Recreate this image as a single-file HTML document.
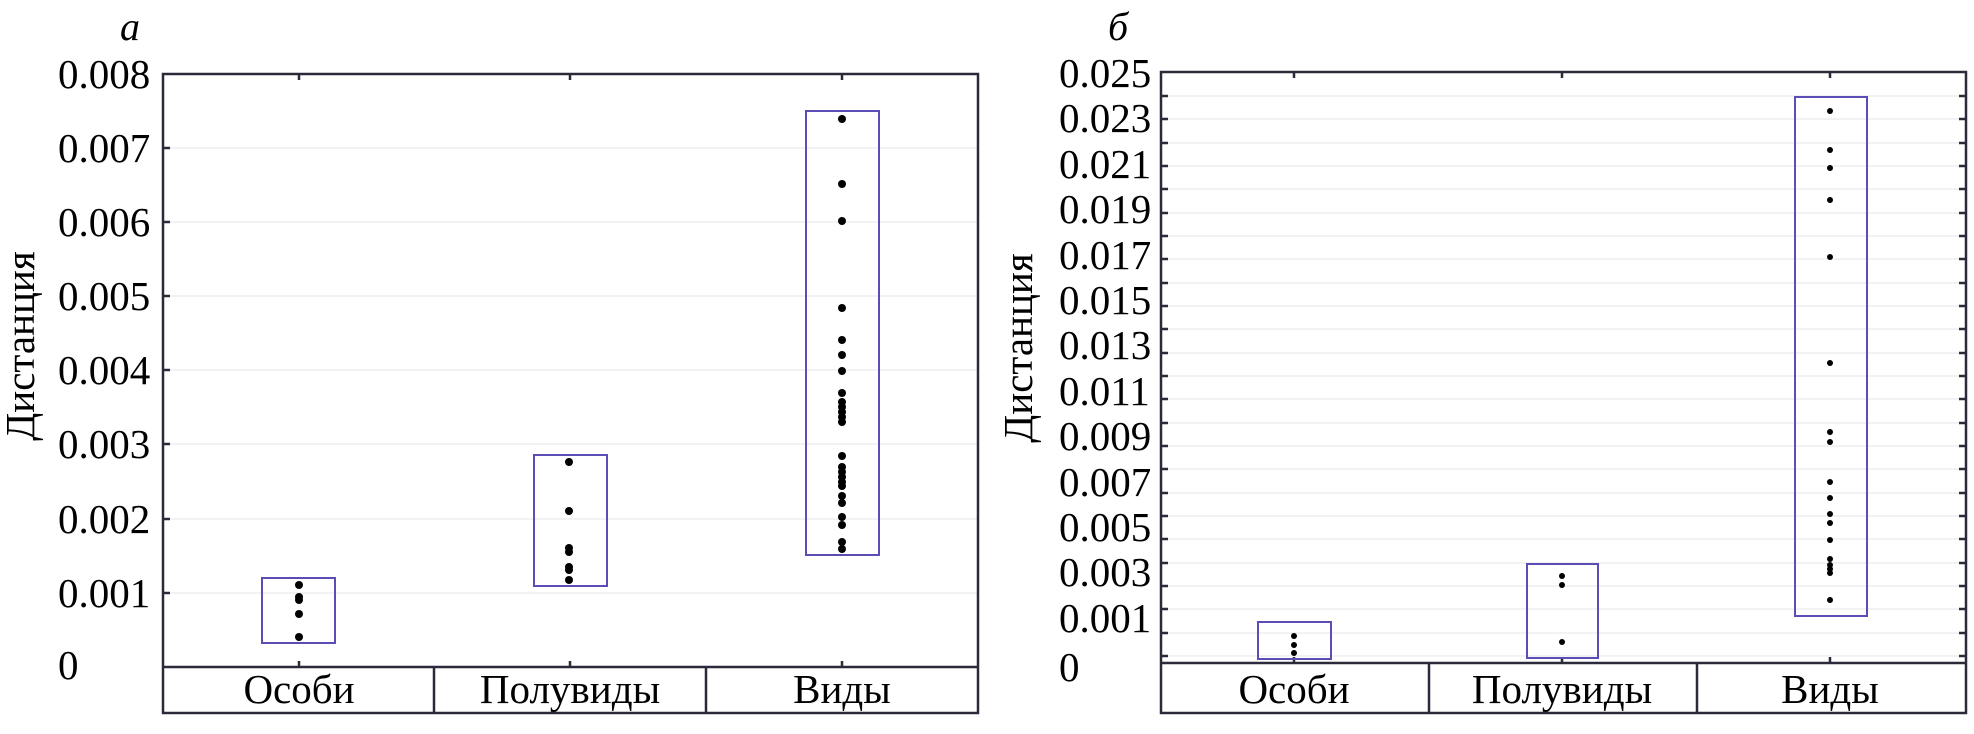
<!DOCTYPE html>
<html><head><meta charset="utf-8"><style>
html,body{margin:0;padding:0;background:#fff;width:1974px;height:734px;overflow:hidden}
text{font-family:"Liberation Serif","DejaVu Serif",serif;fill:#000}
</style></head><body>
<svg width="1974" height="734" viewBox="0 0 1974 734" xmlns="http://www.w3.org/2000/svg">
<!-- LEFT PANEL -->
<text x="130" y="40" font-size="40" font-style="italic" text-anchor="middle">а</text>
<g stroke="#eeeeee" stroke-width="1.5">
<line x1="163" x2="978" y1="148" y2="148"/><line x1="163" x2="978" y1="222" y2="222"/>
<line x1="163" x2="978" y1="296" y2="296"/><line x1="163" x2="978" y1="370" y2="370"/>
<line x1="163" x2="978" y1="444" y2="444"/><line x1="163" x2="978" y1="519" y2="519"/>
<line x1="163" x2="978" y1="593" y2="593"/>
</g>
<g stroke="#2a2a3a" stroke-width="2.5">
<line x1="163" x2="170" y1="148" y2="148"/><line x1="163" x2="170" y1="222" y2="222"/>
<line x1="163" x2="170" y1="296" y2="296"/><line x1="163" x2="170" y1="370" y2="370"/>
<line x1="163" x2="170" y1="444" y2="444"/><line x1="163" x2="170" y1="519" y2="519"/>
<line x1="163" x2="170" y1="593" y2="593"/>
<line x1="299" x2="299" y1="74" y2="80"/><line x1="570" x2="570" y1="74" y2="80"/><line x1="842" x2="842" y1="74" y2="80"/>
<line x1="299" x2="299" y1="667" y2="661"/><line x1="570" x2="570" y1="667" y2="661"/><line x1="842" x2="842" y1="667" y2="661"/>
<rect x="163" y="74" width="815" height="639" fill="none"/>
<line x1="163" x2="978" y1="667" y2="667"/>
<line x1="434" x2="434" y1="667" y2="713"/><line x1="706" x2="706" y1="667" y2="713"/>
</g>
<g font-size="41">
<text x="58" y="88">0.008</text><text x="58" y="162">0.007</text><text x="58" y="236">0.006</text>
<text x="58" y="310">0.005</text><text x="58" y="384">0.004</text><text x="58" y="458">0.003</text>
<text x="58" y="533">0.002</text><text x="58" y="607">0.001</text><text x="58" y="679">0</text>
</g>
<text transform="translate(34,346) rotate(-90)" font-size="41" text-anchor="middle">Дистанция</text>
<g font-size="41" text-anchor="middle">
<text x="299" y="703">Особи</text><text x="570" y="703">Полувиды</text><text x="842" y="703">Виды</text>
</g>
<g fill="none" stroke="#5a4db5" stroke-width="2">
<rect x="262" y="578" width="73" height="65"/>
<rect x="534" y="455" width="73" height="131"/>
<rect x="806" y="111" width="73" height="444"/>
</g>
<g fill="#000">
<circle cx="299" cy="585" r="4"/><circle cx="299" cy="597" r="4"/><circle cx="299" cy="600" r="4"/><circle cx="299" cy="614" r="4"/><circle cx="299" cy="637" r="4"/>
<circle cx="569" cy="462" r="4"/><circle cx="569" cy="511" r="4"/><circle cx="569" cy="548" r="4"/><circle cx="569" cy="552" r="4"/><circle cx="569" cy="567" r="4"/><circle cx="569" cy="570" r="4"/><circle cx="569" cy="580" r="4"/>
<circle cx="842" cy="119" r="4"/><circle cx="842" cy="184" r="4"/><circle cx="842" cy="221" r="4"/><circle cx="842" cy="308" r="4"/><circle cx="842" cy="340" r="4"/><circle cx="842" cy="355" r="4"/><circle cx="842" cy="371" r="4"/><circle cx="842" cy="393" r="4"/><circle cx="842" cy="402" r="4"/><circle cx="842" cy="407" r="4"/><circle cx="842" cy="412" r="4"/><circle cx="842" cy="417" r="4"/><circle cx="842" cy="422" r="4"/><circle cx="842" cy="456" r="4"/><circle cx="842" cy="467" r="4"/><circle cx="842" cy="472" r="4"/><circle cx="842" cy="477" r="4"/><circle cx="842" cy="482" r="4"/><circle cx="842" cy="486" r="4"/><circle cx="842" cy="496" r="4"/><circle cx="842" cy="503" r="4"/><circle cx="842" cy="517" r="4"/><circle cx="842" cy="525" r="4"/><circle cx="842" cy="542" r="4"/><circle cx="842" cy="549" r="4"/>
</g>

<!-- RIGHT PANEL -->
<text x="1118" y="40" font-size="40" font-style="italic" text-anchor="middle">б</text>
<g stroke="#eeeeee" stroke-width="1.5">
<line x1="1163" x2="1964" y1="656" y2="656"/><line x1="1163" x2="1964" y1="633" y2="633"/><line x1="1163" x2="1964" y1="609" y2="609"/><line x1="1163" x2="1964" y1="586" y2="586"/><line x1="1163" x2="1964" y1="563" y2="563"/><line x1="1163" x2="1964" y1="539" y2="539"/><line x1="1163" x2="1964" y1="516" y2="516"/><line x1="1163" x2="1964" y1="493" y2="493"/><line x1="1163" x2="1964" y1="469" y2="469"/><line x1="1163" x2="1964" y1="446" y2="446"/><line x1="1163" x2="1964" y1="423" y2="423"/><line x1="1163" x2="1964" y1="399" y2="399"/><line x1="1163" x2="1964" y1="376" y2="376"/><line x1="1163" x2="1964" y1="353" y2="353"/><line x1="1163" x2="1964" y1="329" y2="329"/><line x1="1163" x2="1964" y1="306" y2="306"/><line x1="1163" x2="1964" y1="283" y2="283"/><line x1="1163" x2="1964" y1="259" y2="259"/><line x1="1163" x2="1964" y1="236" y2="236"/><line x1="1163" x2="1964" y1="213" y2="213"/><line x1="1163" x2="1964" y1="189" y2="189"/><line x1="1163" x2="1964" y1="166" y2="166"/><line x1="1163" x2="1964" y1="143" y2="143"/><line x1="1163" x2="1964" y1="119" y2="119"/><line x1="1163" x2="1964" y1="96" y2="96"/>
</g>
<g stroke="#2a2a3a" stroke-width="2.5">
<line x1="1161" x2="1168" y1="656" y2="656"/><line x1="1161" x2="1168" y1="633" y2="633"/><line x1="1161" x2="1168" y1="609" y2="609"/><line x1="1161" x2="1168" y1="586" y2="586"/><line x1="1161" x2="1168" y1="563" y2="563"/><line x1="1161" x2="1168" y1="539" y2="539"/><line x1="1161" x2="1168" y1="516" y2="516"/><line x1="1161" x2="1168" y1="493" y2="493"/><line x1="1161" x2="1168" y1="469" y2="469"/><line x1="1161" x2="1168" y1="446" y2="446"/><line x1="1161" x2="1168" y1="423" y2="423"/><line x1="1161" x2="1168" y1="399" y2="399"/><line x1="1161" x2="1168" y1="376" y2="376"/><line x1="1161" x2="1168" y1="353" y2="353"/><line x1="1161" x2="1168" y1="329" y2="329"/><line x1="1161" x2="1168" y1="306" y2="306"/><line x1="1161" x2="1168" y1="283" y2="283"/><line x1="1161" x2="1168" y1="259" y2="259"/><line x1="1161" x2="1168" y1="236" y2="236"/><line x1="1161" x2="1168" y1="213" y2="213"/><line x1="1161" x2="1168" y1="189" y2="189"/><line x1="1161" x2="1168" y1="166" y2="166"/><line x1="1161" x2="1168" y1="143" y2="143"/><line x1="1161" x2="1168" y1="119" y2="119"/><line x1="1161" x2="1168" y1="96" y2="96"/>
<line x1="1966" x2="1959" y1="656" y2="656"/><line x1="1966" x2="1959" y1="633" y2="633"/><line x1="1966" x2="1959" y1="609" y2="609"/><line x1="1966" x2="1959" y1="586" y2="586"/><line x1="1966" x2="1959" y1="563" y2="563"/><line x1="1966" x2="1959" y1="539" y2="539"/><line x1="1966" x2="1959" y1="516" y2="516"/><line x1="1966" x2="1959" y1="493" y2="493"/><line x1="1966" x2="1959" y1="469" y2="469"/><line x1="1966" x2="1959" y1="446" y2="446"/><line x1="1966" x2="1959" y1="423" y2="423"/><line x1="1966" x2="1959" y1="399" y2="399"/><line x1="1966" x2="1959" y1="376" y2="376"/><line x1="1966" x2="1959" y1="353" y2="353"/><line x1="1966" x2="1959" y1="329" y2="329"/><line x1="1966" x2="1959" y1="306" y2="306"/><line x1="1966" x2="1959" y1="283" y2="283"/><line x1="1966" x2="1959" y1="259" y2="259"/><line x1="1966" x2="1959" y1="236" y2="236"/><line x1="1966" x2="1959" y1="213" y2="213"/><line x1="1966" x2="1959" y1="189" y2="189"/><line x1="1966" x2="1959" y1="166" y2="166"/><line x1="1966" x2="1959" y1="143" y2="143"/><line x1="1966" x2="1959" y1="119" y2="119"/><line x1="1966" x2="1959" y1="96" y2="96"/>
<line x1="1294" x2="1294" y1="72" y2="78"/><line x1="1562" x2="1562" y1="72" y2="78"/><line x1="1830" x2="1830" y1="72" y2="78"/>
<line x1="1294" x2="1294" y1="663" y2="657"/><line x1="1562" x2="1562" y1="663" y2="657"/><line x1="1830" x2="1830" y1="663" y2="657"/>
<rect x="1161" y="72" width="805" height="641" fill="none"/>
<line x1="1161" x2="1966" y1="663" y2="663"/>
<line x1="1429" x2="1429" y1="663" y2="713"/><line x1="1697" x2="1697" y1="663" y2="713"/>
</g>
<g font-size="41">
<text x="1059" y="87">0.025</text><text x="1059" y="132">0.023</text><text x="1059" y="178">0.021</text>
<text x="1059" y="223">0.019</text><text x="1059" y="269">0.017</text><text x="1059" y="314">0.015</text>
<text x="1059" y="359">0.013</text><text x="1059" y="405">0.011</text><text x="1059" y="450">0.009</text>
<text x="1059" y="496">0.007</text><text x="1059" y="541">0.005</text><text x="1059" y="586">0.003</text>
<text x="1059" y="632">0.001</text><text x="1059" y="681">0</text>
</g>
<text transform="translate(1032,348) rotate(-90)" font-size="41" text-anchor="middle">Дистанция</text>
<g font-size="41" text-anchor="middle">
<text x="1294" y="703">Особи</text><text x="1562" y="703">Полувиды</text><text x="1830" y="703">Виды</text>
</g>
<g fill="none" stroke="#5a4db5" stroke-width="2">
<rect x="1258" y="622" width="73" height="37"/>
<rect x="1527" y="564" width="71" height="94"/>
<rect x="1795" y="97" width="72" height="519"/>
</g>
<g fill="#000">
<circle cx="1294" cy="636" r="3"/><circle cx="1294" cy="645" r="3"/><circle cx="1294" cy="653" r="3"/>
<circle cx="1562" cy="576" r="3"/><circle cx="1562" cy="585" r="3"/><circle cx="1562" cy="642" r="3"/>
<circle cx="1830" cy="111" r="3"/><circle cx="1830" cy="150" r="3"/><circle cx="1830" cy="168" r="3"/><circle cx="1830" cy="200" r="3"/><circle cx="1830" cy="257" r="3"/><circle cx="1830" cy="363" r="3"/><circle cx="1830" cy="432" r="3"/><circle cx="1830" cy="442" r="3"/><circle cx="1830" cy="482" r="3"/><circle cx="1830" cy="498" r="3"/><circle cx="1830" cy="514" r="3"/><circle cx="1830" cy="523" r="3"/><circle cx="1830" cy="540" r="3"/><circle cx="1830" cy="559" r="3"/><circle cx="1830" cy="565" r="3"/><circle cx="1830" cy="569" r="3"/><circle cx="1830" cy="573" r="3"/><circle cx="1830" cy="600" r="3"/>
</g>
</svg>
</body></html>
